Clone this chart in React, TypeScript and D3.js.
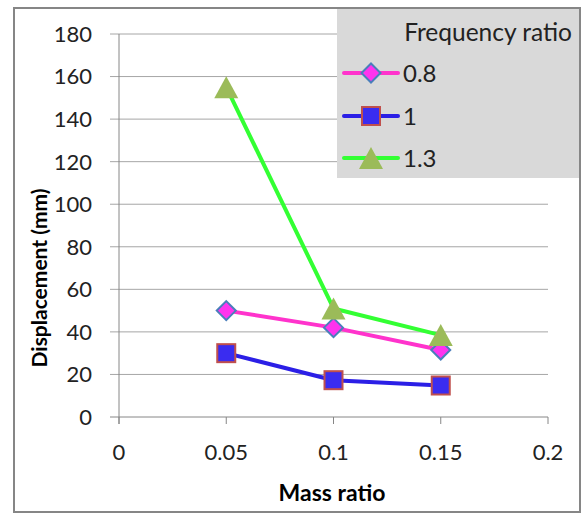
import React from "react";
import * as d3 from "d3";

const massRatios = [0.05, 0.1, 0.15];
const seriesNames = ["0.8", "1", "1.3"];
const series08 = [50, 42, 31.5];
const series1 = [30, 17.3, 14.8];
const series13 = [155, 51, 38.5];
const xTicks = [0, 0.05, 0.1, 0.15, 0.2];
const yTicks = [0, 20, 40, 60, 80, 100, 120, 140, 160, 180];
const legendTitle = "Frequency ratio";
const xTitle = "Mass ratio";
const yTitle = "Displacement (mm)";

const FONT = "Lato, 'Open Sans', sans-serif";

const styles = [
  { line: "#ff33cc", fill: "#ff33ee", stroke: "#4a7ebb", marker: "diamond" },
  { line: "#2b1fe6", fill: "#3a2cf0", stroke: "#c0504d", marker: "square" },
  { line: "#33ff33", fill: "#9bbb59", stroke: "#9bbb59", marker: "triangle" },
];

function Marker({ kind, x, y, s }: { kind: string; x: number; y: number; s: any }) {
  if (kind === "diamond") {
    const r = 9.5;
    return (
      <path
        d={`M${x},${y - r}L${x + r},${y}L${x},${y + r}L${x - r},${y}Z`}
        fill={s.fill}
        stroke={s.stroke}
        strokeWidth={2}
      />
    );
  }
  if (kind === "square") {
    const r = 9;
    return <rect x={x - r} y={y - r} width={2 * r} height={2 * r} fill={s.fill} stroke={s.stroke} strokeWidth={2} />;
  }
  const h = 11;
  return <path d={`M${x},${y - h}L${x + 12},${y + h}L${x - 12},${y + h}Z`} fill={s.fill} />;
}

export default function App() {
  const x = d3.scaleLinear().domain([0, 0.2]).range([119, 548]);
  const y = d3.scaleLinear().domain([0, 180]).range([417, 34]);
  const data = [series08, series1, series13];
  const line = d3
    .line<number>()
    .x((_, i) => x(massRatios[i]))
    .y((d) => y(d));

  return (
    <svg width={581} height={514} style={{ position: "absolute", left: 0, top: 0 }}>
      <rect x={0} y={0} width={581} height={514} fill="#fff" />
      {yTicks.map((t) => (
        <g key={t}>
          <line x1={110} x2={548} y1={y(t)} y2={y(t)} stroke={t === 0 ? "#868686" : "#a6a6a6"} strokeWidth={1} />
          <text x={92} y={y(t)} dy="0.36em" textAnchor="end" fontFamily={FONT} fontSize={22} fill="#222">
            {t}
          </text>
        </g>
      ))}
      <line x1={119} x2={119} y1={34} y2={424} stroke="#868686" strokeWidth={1} />
      {xTicks.map((t) => (
        <g key={t}>
          <line x1={x(t)} x2={x(t)} y1={417} y2={424} stroke="#868686" strokeWidth={1} />
          <text x={x(t)} y={452} dy="0.36em" textAnchor="middle" fontFamily={FONT} fontSize={22} fill="#222">
            {t}
          </text>
        </g>
      ))}
      <text x={332} y={493} dy="0.36em" textAnchor="middle" fontFamily={FONT} fontWeight="bold" fontSize={23} fill="#000">
        {xTitle}
      </text>
      <text
        transform={`translate(39,278) rotate(-90)`}
        dy="0.36em"
        textAnchor="middle"
        fontFamily={FONT}
        fontWeight="bold"
        fontSize={21}
        fill="#000"
      >
        {yTitle}
      </text>
      {data.map((vals, si) => (
        <g key={si}>
          <path d={line(vals) || ""} fill="none" stroke={styles[si].line} strokeWidth={4} strokeLinejoin="round" />
          {vals.map((v, i) => (
            <Marker key={i} kind={styles[si].marker} x={x(massRatios[i])} y={y(v)} s={styles[si]} />
          ))}
        </g>
      ))}
      <rect x={337} y={9} width={243} height={169} fill="#d9d9d9" />
      <text x={572} y={32} dy="0.36em" textAnchor="end" fontFamily={FONT} fontSize={24.5} fill="#222">
        {legendTitle}
      </text>
      {seriesNames.map((n, i) => {
        const ly = [73, 116, 158][i];
        return (
          <g key={n}>
            <line x1={344} x2={398} y1={ly} y2={ly} stroke={styles[i].line} strokeWidth={4} strokeLinecap="round" />
            <Marker kind={styles[i].marker} x={371} y={ly} s={styles[i]} />
            <text x={403} y={ly} dy="0.36em" fontFamily={FONT} fontSize={24} fill="#222">
              {n}
            </text>
          </g>
        );
      })}
      <rect x={14} y={8} width={566} height={504} fill="none" stroke="#868686" strokeWidth={2} />
    </svg>
  );
}
